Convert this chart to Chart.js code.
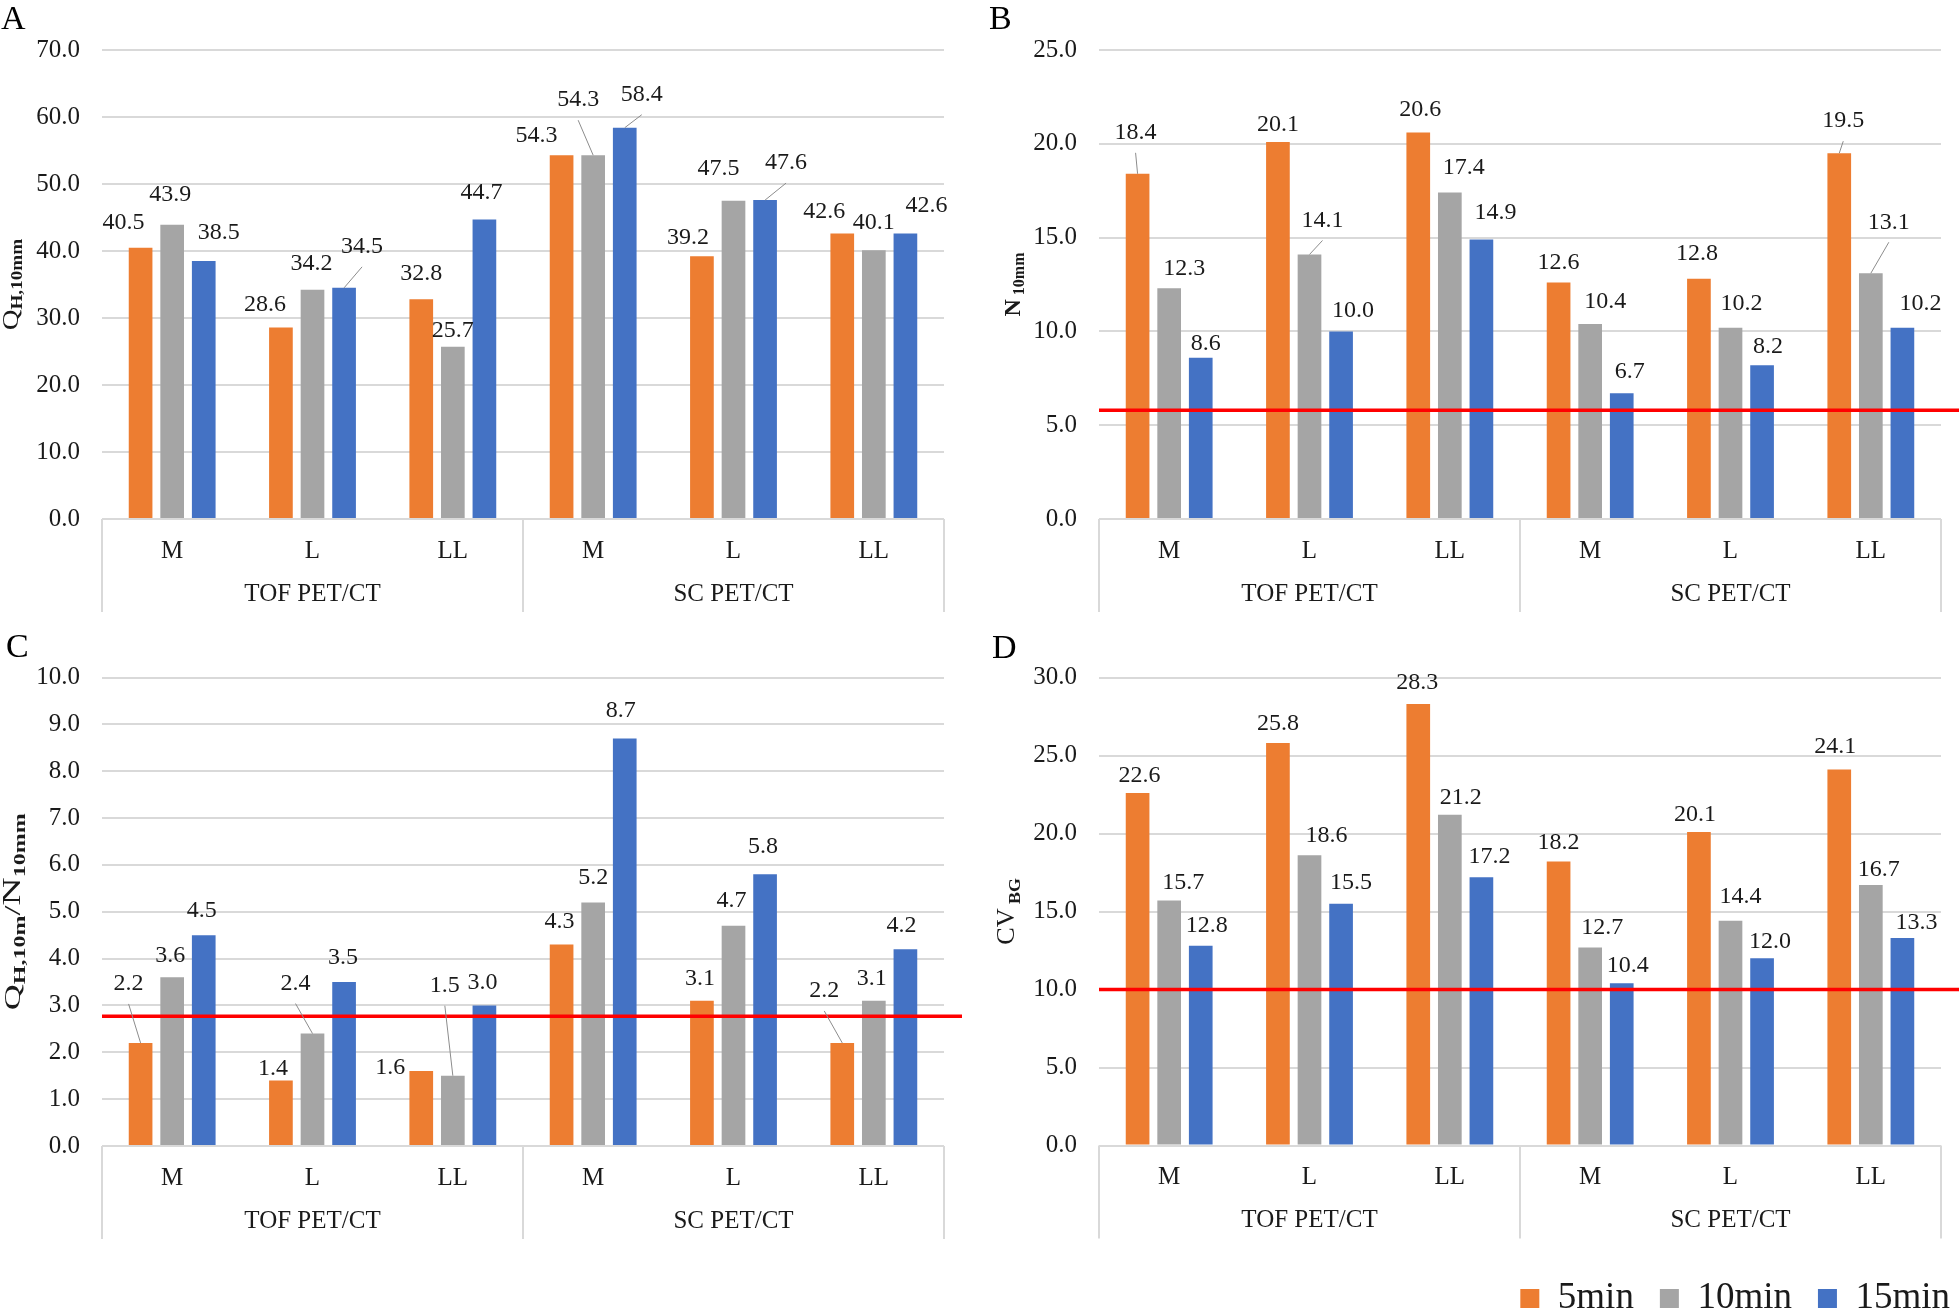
<!DOCTYPE html>
<html>
<head>
<meta charset="utf-8">
<script src="https://cdn.jsdelivr.net/npm/chart.js@4.4.1/dist/chart.umd.min.js"></script>
<style>
  html, body { margin: 0; padding: 0; background: #fff; overflow: hidden; }
  #page { position: relative; width: 1960px; height: 1313px; overflow: hidden; background: #fff; }
  canvas { position: absolute; }
</style>
</head>
<body>
<div id="page">
  <canvas id="chartA" width="980" height="640" style="left:0;top:0"></canvas>
  <canvas id="chartB" width="980" height="640" style="left:980px;top:0"></canvas>
  <canvas id="chartC" width="980" height="640" style="left:0;top:627px"></canvas>
  <canvas id="chartD" width="996" height="700" style="left:980px;top:627px"></canvas>
</div>
<script>
// categories
const categories = ['M', 'L', 'LL', 'M', 'L', 'LL'];
const groups = ['TOF PET/CT', 'SC PET/CT'];
const seriesNames = ['5min', '10min', '15min'];

// A: Q_H,10mm
const qh5  = [40.5, 28.6, 32.8, 54.3, 39.2, 42.6];
const qh10 = [43.9, 34.2, 25.7, 54.3, 47.5, 40.1];
const qh15 = [38.5, 34.5, 44.7, 58.4, 47.6, 42.6];

// B: N_10mm
const n5  = [18.4, 20.1, 20.6, 12.6, 12.8, 19.5];
const n10 = [12.3, 14.1, 17.4, 10.4, 10.2, 13.1];
const n15 = [8.6, 10.0, 14.9, 6.7, 8.2, 10.2];
const nLimit = 5.8;

// C: Q_H,10mm / N_10mm
const qn5  = [2.2, 1.4, 1.6, 4.3, 3.1, 2.2];
const qn10 = [3.6, 2.4, 1.5, 5.2, 4.7, 3.1];
const qn15 = [4.5, 3.5, 3.0, 8.7, 5.8, 4.2];
const qnLimit = 2.77;

// D: CV_BG
const cv5  = [22.6, 25.8, 28.3, 18.2, 20.1, 24.1];
const cv10 = [15.7, 18.6, 21.2, 12.7, 14.4, 16.7];
const cv15 = [12.8, 15.5, 17.2, 10.4, 12.0, 13.3];
const cvLimit = 10.0;

const FONT = '"Liberation Serif", "Times New Roman", serif';
const INK = '#1a1a1a';
const COLORS = ['#ED7D31', '#A5A5A5', '#4472C4'];
const GRID = '#d9d9d9';

// label placement relative to bar top: [dx, rise, leader]
const posA = [
  [[-17,25],[-16,23],[0,26],[-25,19],[-14,19],[-18,22]],
  [[-2,30],[-1,26],[0,16],[-15,55,1],[-15,32],[0,28]],
  [[15,28],[18,41,1],[-3,27],[17,33,1],[21,37,1],[21,28]]
];
const posB = [
  [[-2,41,1],[0,17],[2,23],[0,20],[-2,25],[4,32,1]],
  [[15,20],[13,34,1],[14,25],[15,22],[11,24],[18,51,1]],
  [[5,14],[12,21],[14,27],[8,22],[6,18],[18,24]]
];
const posC = [
  [[-12,59,1],[-8,12],[-31,3],[-2,23],[-2,22],[-18,52,1]],
  [[-2,22],[-17,50,1],[-8,90,1],[0,25],[-2,25],[-2,22]],
  [[-2,24],[-1,24],[-2,23],[-4,28],[-2,28],[-4,24]]
];
const posD = [
  [[2,17],[0,19],[-1,21],[0,19],[-4,17],[-4,23]],
  [[14,18],[17,20],[11,17],[12,20],[10,24],[8,15]],
  [[6,20],[10,21],[8,20],[6,18],[8,17],[14,15]]
];

function makePanel(id, o) {
  const decor = {
    id: 'decor',
    afterDatasetsDraw(chart) {
      const { ctx, chartArea: a, scales } = chart;
      // threshold line
      if (o.limit != null) {
        const y = scales.y.getPixelForValue(o.limit);
        ctx.save();
        ctx.strokeStyle = '#ff0000';
        ctx.lineWidth = 3.5;
        ctx.beginPath();
        ctx.moveTo(a.left, y);
        ctx.lineTo(a.right + 18, y);
        ctx.stroke();
        ctx.restore();
      }
      // value labels
      ctx.save();
      ctx.font = '24px ' + FONT;
      ctx.fillStyle = INK;
      ctx.textAlign = 'center';
      ctx.textBaseline = 'middle';
      chart.data.datasets.forEach((ds, i) => {
        chart.getDatasetMeta(i).data.forEach((bar, j) => {
          const p = o.pos[i][j];
          const lx = bar.x + p[0], ly = bar.y - p[1];
          if (p[2]) {
            ctx.save();
            ctx.strokeStyle = '#8c8c8c';
            ctx.lineWidth = 1;
            ctx.beginPath();
            ctx.moveTo(lx, ly + 20);
            ctx.lineTo(bar.x, bar.y);
            ctx.stroke();
            ctx.restore();
          }
          ctx.fillText(ds.data[j].toFixed(1), lx, ly);
        });
      });
      ctx.restore();
    },
    afterDraw(chart) {
      const { ctx, chartArea: a, scales } = chart;
      const x = scales.x;
      // category box lines
      const mid = (x.getPixelForValue(2) + x.getPixelForValue(3)) / 2;
      ctx.save();
      ctx.strokeStyle = GRID;
      ctx.lineWidth = 2;
      ctx.beginPath();
      [a.left, mid, a.right].forEach(px => {
        ctx.moveTo(px, a.bottom);
        ctx.lineTo(px, a.bottom + 93);
      });
      ctx.stroke();
      ctx.restore();
      // panel letter
      ctx.save();
      ctx.font = '34px ' + FONT;
      ctx.fillStyle = '#000';
      ctx.textBaseline = 'alphabetic';
      ctx.fillText(o.letter, o.letterX, o.letterY);
      ctx.restore();
      // rotated axis title with subscripts
      ctx.save();
      const cy = (a.top + a.bottom) / 2 + (o.titleDy || 0);
      ctx.translate(o.titleX, cy);
      ctx.rotate(-Math.PI / 2);
      ctx.scale(o.titleStretch, 1);
      ctx.fillStyle = INK;
      ctx.textBaseline = 'alphabetic';
      let total = 0;
      o.title.forEach(s => {
        ctx.font = (s.b ? 'bold ' : '') + s.s + 'px ' + FONT;
        s.w = ctx.measureText(s.t).width;
        total += s.w;
      });
      let tx = -total / 2;
      o.title.forEach(s => {
        ctx.font = (s.b ? 'bold ' : '') + s.s + 'px ' + FONT;
        ctx.fillText(s.t, tx, s.sub ? (o.subDy || 4) : 0);
        tx += s.w;
      });
      ctx.restore();
    }
  };

  const hasLegend = !!o.legend;
  const scalesCfg = {
    x: {
      type: 'category',
      grid: { display: false },
      border: { display: false },
      ticks: { color: INK, font: { family: FONT, size: 25 }, padding: 9 },
      afterFit(s) { s.height = 50; }
    },
    x2: {
      type: 'category',
      labels: groups,
      position: 'bottom',
      offset: true,
      grid: { display: false },
      border: { display: false },
      ticks: { color: INK, font: { family: FONT, size: 25 }, padding: 2 },
      afterFit(s) { s.height = hasLegend ? 58.5 : 43; }
    },
    y: {
      min: 0,
      max: o.yMax,
      ticks: {
        stepSize: o.yStep,
        color: INK,
        font: { family: FONT, size: 25 },
        padding: 22,
        callback: v => v.toFixed(1)
      },
      grid: { color: GRID, lineWidth: 2, drawTicks: false },
      border: { display: false },
      afterFit(s) { s.width = o.yWidth; }
    }
  };
  if (o.rightGap) {
    scalesCfg.yR = {
      position: 'right',
      display: true,
      grid: { display: false },
      border: { display: false },
      ticks: { display: false },
      afterFit(s) { s.width = o.rightGap; }
    };
  }

  return new Chart(document.getElementById(id), {
    type: 'bar',
    data: {
      labels: categories,
      datasets: o.series.map((vals, i) => ({
        label: seriesNames[i],
        data: vals,
        backgroundColor: COLORS[i],
        borderWidth: 0,
        categoryPercentage: 0.675,
        barPercentage: 0.75,
        xAxisID: 'x',
        yAxisID: 'y'
      }))
    },
    options: {
      responsive: false,
      animation: false,
      devicePixelRatio: 1,
      layout: { padding: o.padding },
      plugins: {
        legend: hasLegend ? {
          display: true,
          position: 'bottom',
          align: 'end',
          labels: {
            color: INK,
            font: { family: FONT, size: 37 },
            boxWidth: 19,
            boxHeight: 19,
            padding: 26
          }
        } : { display: false },
        tooltip: { enabled: false }
      },
      scales: scalesCfg
    },
    plugins: [decor]
  });
}

makePanel('chartA', {
  series: [qh5, qh10, qh15], yMax: 70, yStep: 10, pos: posA,
  padding: { top: 50, left: 0, right: 36, bottom: 28 }, yWidth: 102,
  letter: 'A', letterX: 1, letterY: 29,
  title: [{ t: 'Q', s: 24 }, { t: 'H,10mm', s: 16, b: 1, sub: 1 }],
  titleX: 18, titleStretch: 1.2
});

makePanel('chartB', {
  series: [n5, n10, n15], yMax: 25, yStep: 5, pos: posB, limit: nLimit,
  padding: { top: 50, left: 0, right: 19, bottom: 28 }, yWidth: 119,
  letter: 'B', letterX: 9, letterY: 29,
  title: [{ t: 'N', s: 24, b: 1 }, { t: ' 10mm', s: 16, b: 1, sub: 1 }],
  titleX: 40, titleStretch: 1.0
});

makePanel('chartC', {
  series: [qn5, qn10, qn15], yMax: 10, yStep: 1, pos: posC, limit: qnLimit,
  padding: { top: 50.5, left: 0, right: 36, bottom: 28 }, yWidth: 102,
  letter: 'C', letterX: 6, letterY: 30,
  title: [{ t: 'Q', s: 24 }, { t: 'H,10m', s: 16, b: 1, sub: 1 }, { t: '/', s: 24 },
          { t: 'N', s: 26 }, { t: '10mm', s: 16, b: 1, sub: 1 }],
  titleX: 20, titleStretch: 1.5, titleDy: 0, subDy: 5
});

makePanel('chartD', {
  series: [cv5, cv10, cv15], yMax: 30, yStep: 5, pos: posD, limit: cvLimit,
  padding: { top: 50.5, left: 0, right: 0, bottom: 0 }, yWidth: 119, rightGap: 35,
  legend: true,
  letter: 'D', letterX: 12, letterY: 31,
  title: [{ t: 'CV', s: 25 }, { t: ' BG', s: 17, b: 1, sub: 1 }],
  titleX: 34, titleStretch: 1.05, subDy: 6
});
</script>
</body>
</html>
